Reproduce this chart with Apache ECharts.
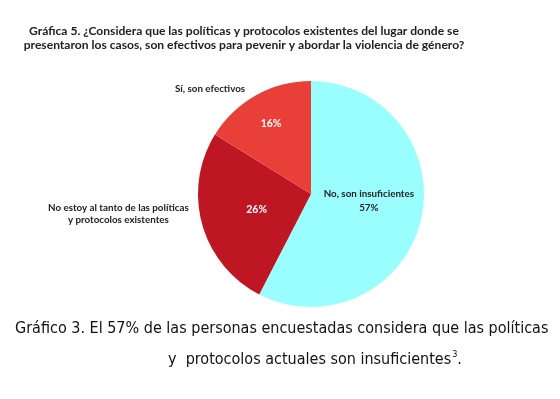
<!DOCTYPE html>
<html>
<head>
<meta charset="utf-8">
<script src="https://cdn.jsdelivr.net/npm/echarts@6/dist/echarts.min.js"></script>
<style>
  html, body { margin: 0; padding: 0; background: #fff; }
  #chart { width: 560px; height: 399px; }
</style>
</head>
<body>
<div id="chart"></div>
<script>
// categorías y valores (en %), en el orden en que aparecen desde las 12 en sentido horario
const categories = ["No, son insuficientes", "No estoy al tanto de las políticas\ny protocolos existentes", "Sí, son efectivos"];
const values = [57, 26, 16];
const colors = ["#9BFEFE", "#BE1622", "#E84038"];

const chart = echarts.init(document.getElementById("chart"));

const option = {
  animation: false,
  title: {
    text: "Gráfica 5. ¿Considera que las políticas y protocolos existentes del lugar donde se\npresentaron los casos, son efectivos para pevenir y abordar la violencia de género?",
    left: 239,
    top: 19,
    textAlign: "center",
    textStyle: {
      fontFamily: "Lato",
      fontWeight: "bold",
      fontSize: 12.1,
      lineHeight: 14,
      color: "#222",
    },
  },
  graphic: [
    {
      type: "text",
      left: 175,
      top: 84,
      style: {
        text: categories[2],
        font: "bold 9.8px Lato",
        fill: "#222",
      },
    },
    {
      type: "text",
      left: 48,
      top: 202,
      style: {
        text: categories[1],
        font: "bold 9.8px Lato",
        fill: "#222",
        textAlign: "center",
        lineHeight: 12,
      },
    },
    {
      type: "text",
      left: 15,
      top: 321,
      style: {
        text: "{a|Gráfico 3. El 57% de las personas encuestadas considera que las políticas}\n{b|y  protocolos actuales son insuficientes}{s|3}{a|.}",
        rich: {
          a: { fontFamily: "DejaVu Sans Condensed", fontSize: 16, fill: "#111", lineHeight: 31 },
          b: { fontFamily: "DejaVu Sans Condensed", fontSize: 16, fill: "#111", lineHeight: 31, padding: [0, 0, 0, 153] },
          s: { fontFamily: "DejaVu Sans Condensed", fontSize: 9, fill: "#111", padding: [0, 0, 10, 1] },
        },
      },
    },
  ],
  series: [
    {
      type: "pie",
      center: [311, 194],
      radius: 113,
      startAngle: 90,
      clockwise: true,
      data: categories.map((name, i) => ({
        name: name,
        value: values[i],
        itemStyle: { color: colors[i] },
        label: i === 0
          ? { formatter: "{b}\n{c}%\n ", color: "#222", fontSize: 9.8, lineHeight: 14, fontWeight: "bold", fontFamily: "Lato" }
          : i === 2
            ? { formatter: "{c}%\n \n \n ", color: "#fff", fontSize: 10.5, lineHeight: 12, fontWeight: "bold", fontFamily: "Lato", padding: [0, 22, 0, 0] }
            : { formatter: "{c}%", color: "#fff", fontSize: 10.5, fontWeight: "bold", fontFamily: "Lato", padding: [0, 0, 0, 6] },
      })),
      label: { show: true, position: "inside" },
      labelLine: { show: false },
      emphasis: { disabled: true },
    },
  ],
};

chart.setOption(option);
window.addEventListener("resize", () => chart.resize());
</script>
</body>
</html>
